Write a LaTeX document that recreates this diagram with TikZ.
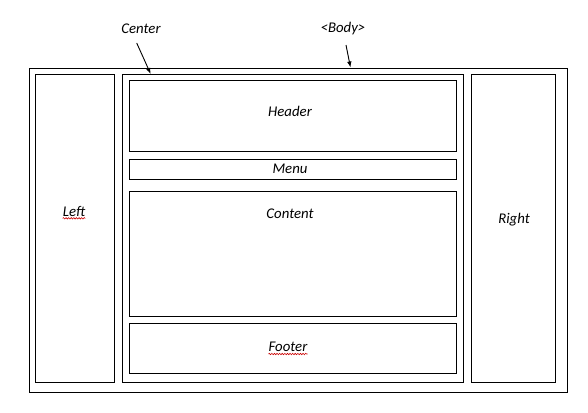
\documentclass[tikz,border=0pt]{standalone}
\usepackage{fontspec}
\setmainfont{Carlito}
\usetikzlibrary{arrows.meta,decorations.pathmorphing}
\begin{document}
\begin{tikzpicture}[x=1bp,y=-1bp,
  box/.style={draw=black,line width=1bp,rectangle,inner sep=0pt},
  lbl/.style={font=\itshape\fontsize{14.8bp}{16bp}\selectfont,inner sep=0pt,text=black},
  arr/.style={line width=0.9bp,-{Latex[length=6bp,width=4.5bp]}},
  squig/.style={draw=red!80!black,line width=0.6bp,decorate,decoration={snake,amplitude=0.7bp,segment length=2.6bp}}]
\useasboundingbox (0,0) rectangle (588,412);
\fill[white] (0,0) rectangle (588,412);
% boxes
\node[box,minimum width=537bp,minimum height=324bp] (body) at (298.5,230) {};
\node[box,minimum width=79bp,minimum height=308bp] (left) at (75,228.5) {};
\node[box,minimum width=341bp,minimum height=308bp] (center) at (292.5,228.5) {};
\node[box,minimum width=84.5bp,minimum height=308bp] (right) at (513.3,228.5) {};
\node[box,minimum width=327bp,minimum height=71bp] (header) at (292.5,115.5) {};
\node[box,minimum width=327bp,minimum height=20bp] (menu) at (292.5,169.3) {};
\node[box,minimum width=327bp,minimum height=125bp] (content) at (292.5,253.5) {};
\node[box,minimum width=327bp,minimum height=50bp] (footer) at (292.5,348) {};
% labels
\node[lbl] (tcenter) at (141,29) {Center};
\node[lbl] (tbody) at (343,29) {<Body>};
\node[lbl] (theader) at (290,111) {Header};
\node[lbl] (tmenu) at (290,168.5) {Menu};
\node[lbl] (tleft) at (74,211) {Left};
\node[lbl] (tcontent) at (290,214) {Content};
\node[lbl] (tright) at (514,220) {Right};
\node[lbl] (tfooter) at (288,347) {Footer};
% arrows
\coordinate (c0) at (136.7,43);
\coordinate (c1) at (150.7,74);
\coordinate (b0) at (346,45);
\coordinate (b1) at (350.5,67.5);
\draw[arr] (c0) -- (c1);
\draw[arr] (b0) -- (b1);
% spell-check squiggles
\draw[squig] ([yshift=-2bp]tleft.south west) -- ([yshift=-2bp]tleft.south east);
\draw[squig] ([yshift=-2bp]tfooter.south west) -- ([yshift=-2bp]tfooter.south east);
\end{tikzpicture}
\end{document}
